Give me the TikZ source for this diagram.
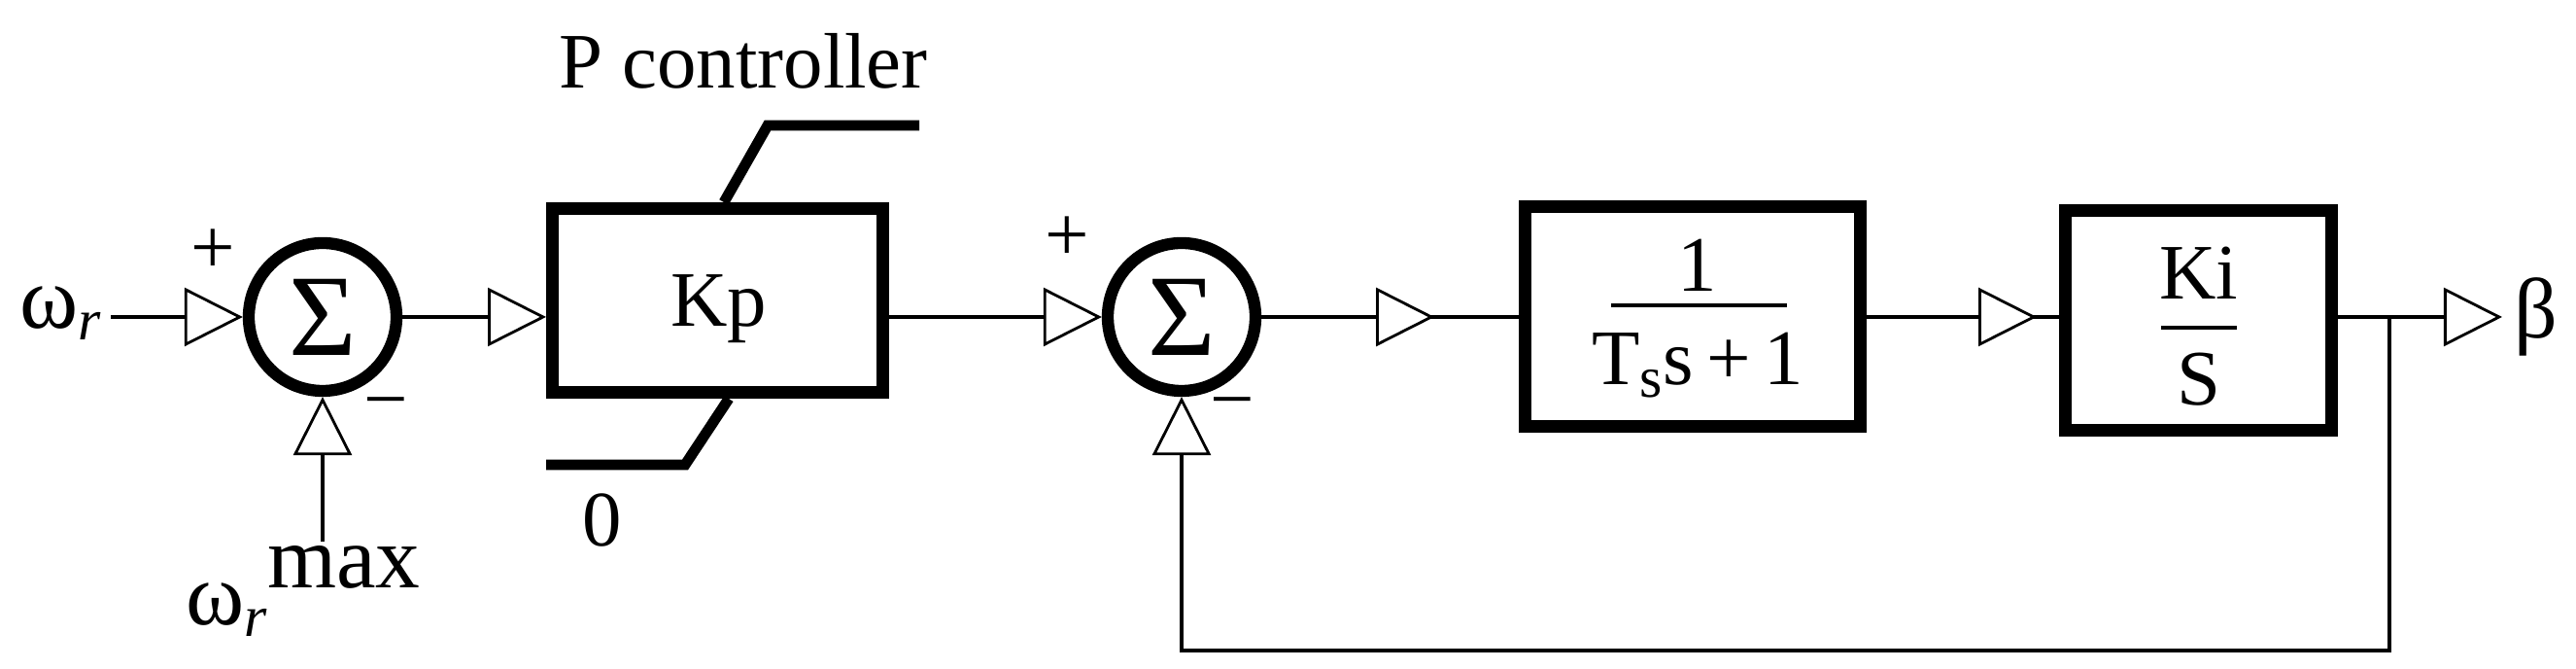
\documentclass[tikz,border=0pt]{standalone}
\usepackage{fontspec}
\setmainfont{Liberation Serif}
\usetikzlibrary{positioning,arrows.meta,decorations.markings}

\tikzset{
  blk/.style={draw, line width=3.7pt, minimum width=#1, minimum height=2.26cm, inner sep=0pt},
  sumnode/.style={draw, circle, line width=3.5pt, minimum size=1.52cm, inner sep=0pt, font=\fontsize{34}{34}\selectfont},
  lbl/.style={font=\fontsize{23}{23}\selectfont, inner sep=0pt},
  sig/.style={line width=1.1pt},
  tri/.style={-{Triangle[length=6cm/10, width=6cm/10, fill=white, line width=0.8pt]}},
  midtri/.style={postaction={decorate, decoration={markings,
      mark=at position #1 with {\arrow{Triangle[length=6cm/10, width=6cm/10, fill=white, line width=0.8pt]}}}}},
}

\begin{document}
\begin{tikzpicture}
\useasboundingbox (0,0) rectangle (26.51,6.88);

% blocks
\node[sumnode] (sum1) at (3.32,3.62) {Σ};
\node[blk=3.40cm, minimum height=1.89cm] (kp) at (7.385,3.79) {};
\node[lbl] (kptext) at (7.40,3.70) {Kp};
\node[sumnode] (sum2) at (12.16,3.62) {Σ};
\node[blk=3.45cm] (lag) at (17.42,3.62) {};
\node[blk=2.74cm] (integ) at (22.625,3.58) {};

% fraction texts
\node[lbl] (lagnum) at (17.47,4.15) {1};
\node[lbl] (lagden) at (17.47,3.12) {T\raisebox{-0.35ex}{\fontsize{17}{17}\selectfont s}s\,+\,1};
\draw[line width=1.3pt] (16.58,3.74) -- (18.39,3.74);
\node[lbl] (ki) at (22.63,4.07) {Ki};
\node[lbl] (ss) at (22.63,2.98) {S};
\draw[line width=1.3pt] (22.24,3.51) -- (23.02,3.51);

% labels
\node[lbl, font=\fontsize{26}{26}\selectfont] (wr) at (0.62,3.66) {ω\raisebox{-0.3ex}{\fontsize{17}{17}\selectfont\itshape r}};
\node[lbl, font=\fontsize{26}{26}\selectfont] (wmax) at (3.12,0.80) {ω\raisebox{-0.3ex}{\fontsize{17}{17}\selectfont\itshape r}\raisebox{0.9ex}{max}};
\node[lbl] (ptitle) at (7.65,6.25) {P controller};
\node[lbl] (zero) at (6.20,1.53) {0};
\node[lbl, font=\fontsize{25}{25}\selectfont] (beta) at (26.10,3.62) {β};
\node[lbl] (p1) at (2.19,4.29) {+};
\node[lbl] (m1) at (3.97,2.65) {−};
\node[lbl] (p2) at (10.98,4.42) {+};
\node[lbl] (m2) at (12.68,2.65) {−};

% limiter
\draw[line width=3.1pt] (7.45,4.80) -- (7.90,5.59) -- (9.46,5.59);
\draw[line width=3.1pt] (7.50,2.78) -- (7.05,2.10) -- (5.62,2.10);

% signals
\coordinate (wmaxin) at (3.32,1.31);
\coordinate (br) at (24.59,3.62);
\coordinate (fb1) at (24.59,0.19);
\coordinate (fb2) at (12.16,0.19);
\draw[sig, tri] ([xshift=0.1cm]wr.east |- sum1.west) -- (sum1.west);
\draw[sig, tri] (wmaxin) -- (sum1.south);
\draw[sig, tri] (sum1.east) -- (sum1.east -| kp.west);
\draw[sig, tri] (kp.east |- sum2.west) -- (sum2.west);
\draw[sig, midtri=1.78cm] (sum2.east) -- (lag.west);
\draw[sig, midtri=1.75cm] (lag.east) -- (lag.east -| integ.west);
\draw[sig, tri] (integ.east |- beta.west) -- ([xshift=-0.12cm]beta.west);
\draw[sig, tri] (br) -- (fb1) -- (fb2) -- (sum2.south);
\end{tikzpicture}
\end{document}
